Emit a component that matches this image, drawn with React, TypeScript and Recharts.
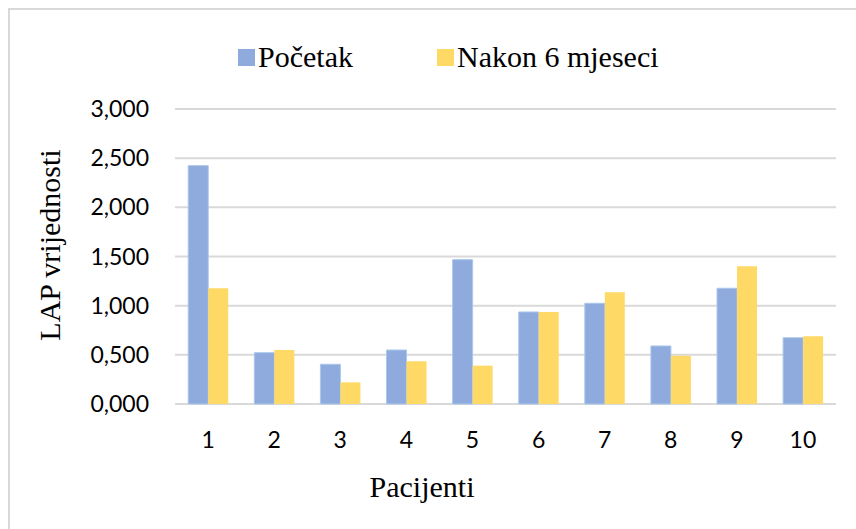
import React from 'react';
import { BarChart, Bar, XAxis, YAxis, CartesianGrid, Legend } from 'recharts';

const categories = ['1', '2', '3', '4', '5', '6', '7', '8', '9', '10'];
const pocetak = [2.424, 0.522, 0.404, 0.549, 1.468, 0.936, 1.024, 0.59, 1.177, 0.674];
const nakon6 = [1.177, 0.549, 0.22, 0.434, 0.39, 0.936, 1.136, 0.49, 1.4, 0.69];
const yTicks = [0, 0.5, 1, 1.5, 2, 2.5, 3];
const seriesNames = ['Početak', 'Nakon 6 mjeseci'];
const seriesColors = ['#8faadc', '#ffd966'];

const data = categories.map((c, i) => ({ name: c, pocetak: pocetak[i], nakon6: nakon6[i] }));

const fmt = (v: number) => v.toFixed(3).replace('.', ',');

const serif = "'Liberation Serif', 'Times New Roman', serif";

const LegendContent = (props: any) => {
  const payload = [...(props.payload || [])].sort(
    (a: any, b: any) => seriesNames.indexOf(a.value) - seriesNames.indexOf(b.value)
  );
  return (
    <div style={{ height: 40, display: 'flex', alignItems: 'center', paddingLeft: 238, fontFamily: serif, fontSize: 30, color: '#000' }}>
      {payload.map((p: any, i: number) => (
        <div key={i} style={{ display: 'flex', alignItems: 'center', marginRight: i === 0 ? 84 : 0 }}>
          <span style={{ display: 'inline-block', width: 17, height: 17, background: p.color, marginRight: 3 }} />
          <span style={{ fontFamily: serif }}>{p.value}</span>
        </div>
      ))}
    </div>
  );
};

export default function App() {
  return (
    <div style={{ position: 'absolute', left: 0, top: 0, width: 856, height: 529, overflow: 'hidden', background: '#fff' }}>
      <div style={{ position: 'absolute', left: 8, top: 8, width: 848, height: 521, boxSizing: 'border-box', borderLeft: '2px solid #d9d9d9', borderTop: '2px solid #d9d9d9' }} />
      <div style={{ position: 'absolute', left: 0, top: 0 }}>
        <BarChart width={856} height={529} data={data} margin={{ top: 69, right: 20, bottom: 65, left: 0 }} barCategoryGap="20%" barGap={0}>
          <CartesianGrid vertical={false} stroke="#d9d9d9" strokeWidth={2} />
          <XAxis
            dataKey="name"
            axisLine={false}
            tickLine={false}
            tickSize={0}
            tickMargin={28}
            height={60}
            tick={{ fill: '#000', fontSize: 23, fontFamily: 'Lato, sans-serif' }}
            label={(p: any) => (
              <text x={422} y={497} textAnchor="middle" fontFamily={serif} fontSize={30} fill="#000">Pacijenti</text>
            )}
          />
          <YAxis
            domain={[0, 3]}
            ticks={yTicks}
            tickFormatter={fmt}
            axisLine={false}
            tickLine={false}
            tickSize={0}
            tickMargin={26}
            width={175}
            interval={0}
            tick={{ fill: '#000', fontSize: 23, fontFamily: 'Lato, sans-serif' }}
            label={(p: any) => (
              <text x={60} y={245} transform="rotate(-90 60 245)" textAnchor="middle" fontFamily={serif} fontSize={30} fill="#000">LAP vrijednosti</text>
            )}
          />
          <Legend verticalAlign="top" itemSorter={null as any} content={<LegendContent />} wrapperStyle={{ top: 37, left: 0, width: 856 }} />
          <Bar dataKey="pocetak" name={seriesNames[0]} fill={seriesColors[0]} stroke="#a9c8ec" strokeWidth={1} isAnimationActive={false} />
          <Bar dataKey="nakon6" name={seriesNames[1]} fill={seriesColors[1]} isAnimationActive={false} />
        </BarChart>
      </div>
    </div>
  );
}
